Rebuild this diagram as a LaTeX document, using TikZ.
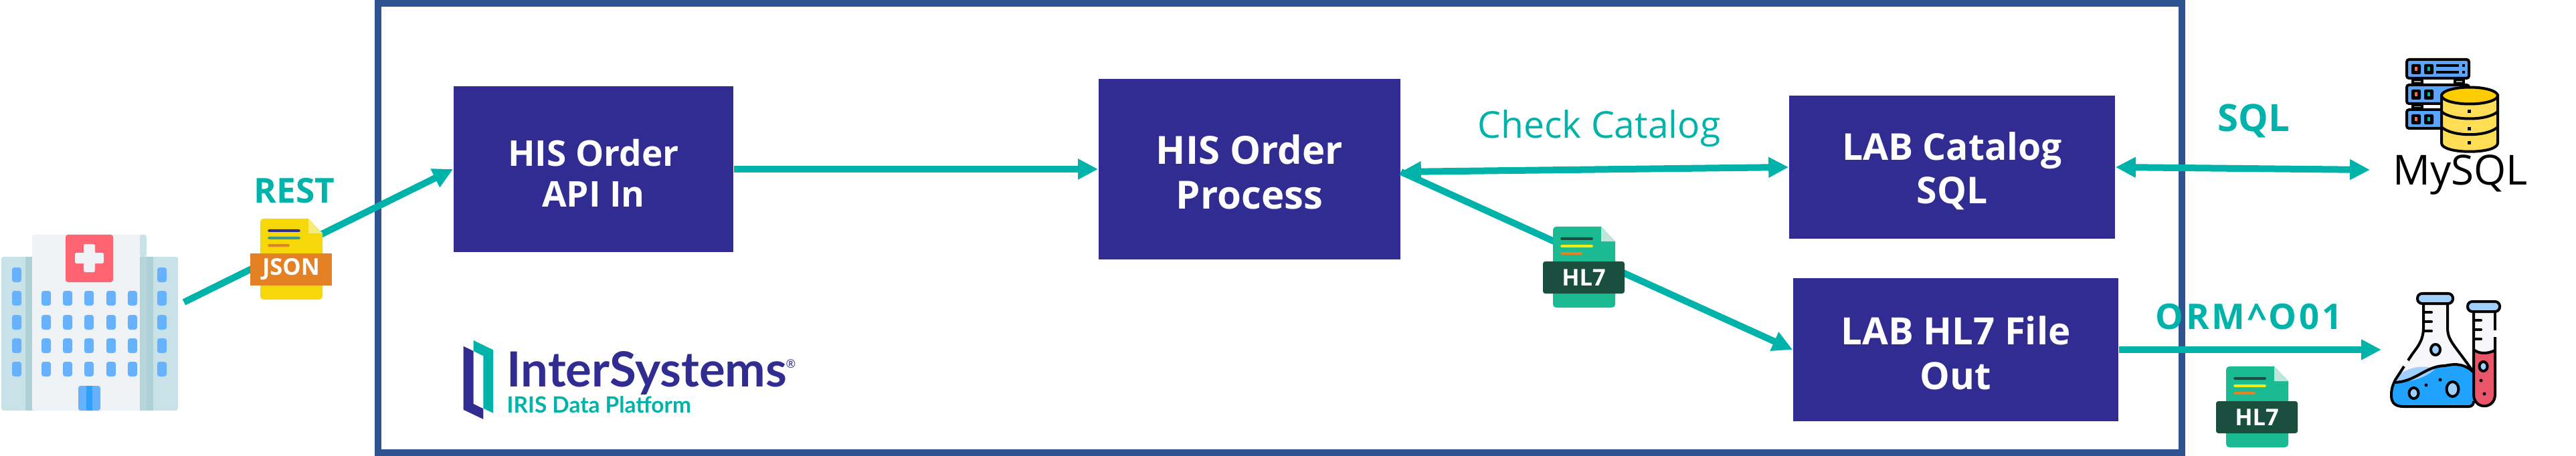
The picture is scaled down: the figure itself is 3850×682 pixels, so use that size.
\documentclass[tikz,border=0pt]{standalone}
\usepackage{fontspec}
\setmainfont{Open Sans}
\newfontfamily\logofont{Lato}
\newfontfamily\ormfont[LetterSpace=7]{Open Sans}
\usetikzlibrary{arrows.meta}
\definecolor{framec}{HTML}{2F5390}
\definecolor{boxc}{HTML}{312C92}
\definecolor{tealc}{HTML}{00B3AA}
\definecolor{wingc}{HTML}{C8E2E7}
\definecolor{stripc}{HTML}{ADD1D6}
\definecolor{wallc}{HTML}{EFF3F6}
\definecolor{bannerc}{HTML}{FF6473}
\definecolor{winc}{HTML}{66B2FF}
\definecolor{doorc}{HTML}{2AA3FF}
\definecolor{jsonbody}{HTML}{F6D70A}
\definecolor{jsonfold}{HTML}{F3EC7A}
\definecolor{orangec}{HTML}{E58125}
\definecolor{hlbody}{HTML}{1ABB92}
\definecolor{hlfold}{HTML}{C0E5DA}
\definecolor{hlband}{HTML}{1A4F40}
\definecolor{yellowc}{HTML}{F5EA14}
\definecolor{jsonline}{HTML}{3C9B8B}
\definecolor{rackc}{HTML}{5AA6FF}
\definecolor{goldc}{HTML}{FFCC00}
\definecolor{goldl}{HTML}{FFDD55}
\definecolor{ledr}{HTML}{FF6B4A}
\definecolor{capc}{HTML}{9FD0FF}
\definecolor{glassc}{HTML}{F7F6F8}
\definecolor{liquidb}{HTML}{20A2FF}
\definecolor{liquidr}{HTML}{EB5569}
\newcommand{\topfill}{\rule{0pt}{15pt}}
\tikzset{
    flowbox/.style = {rectangle,fill=boxc,text=white,align=center,inner sep=0pt,font=\bfseries\fontsize{16}{19}\selectfont},
    edgen/.style = {-{Triangle[length=0.30cm,width=0.29cm]},line width=0.10cm,tealc},
    edged/.style = {{Triangle[length=0.30cm,width=0.29cm]}-{Triangle[length=0.30cm,width=0.29cm]},line width=0.10cm,tealc},
    tagb/.style = {anchor=base,text=tealc,inner sep=0pt,font=\bfseries\fontsize{14.6}{18}\selectfont},
    doctext/.style = {text=white,inner sep=0pt,font=\bfseries\fontsize{9.8}{12}\selectfont},
    ink/.style = {draw=black,line width=0.04cm}
}
% file icon: name, origin, body, fold, band options, three line colours, text
\newcommand{\docicon}[8]{
  \begin{scope}[shift={(#2)}]
    \fill[#3,rounded corners=1.4pt] (0,0) [sharp corners] -- (72,0) -- (93,22) [rounded corners=1.4pt] -- (93,121) -- (0,121) -- cycle;
    \fill[#4] (72,0) -- (93,22) -- (72,22) -- cycle;
    \fill[#6,rounded corners=0.5pt] (11,16) rectangle (60,20);
    \fill[#7,rounded corners=0.5pt] (11,27) rectangle (60,31);
    \fill[orangec,rounded corners=0.5pt] (11,38) rectangle (44,42);
    \fill[#5] (-15,52) rectangle (107,100);
    \node[doctext] (#1) at (46,76) {#8};
  \end{scope}
}
\begin{document}
\begin{tikzpicture}[x=0.01cm,y=-0.01cm]
  \useasboundingbox (0,0) rectangle (3850,682);

  % frame
  \draw[framec,line width=0.10cm] (565,5) rectangle (3261,677);

  % hospital
  \fill[wingc,rounded corners=1pt] (2,384) rectangle (266,614);
  \fill[wallc,rounded corners=1pt] (48,351) rectangle (219,614);
  \fill[wingc,rounded corners=1pt] (209,351) rectangle (219,384);
  \fill[stripc!70!wingc] (209,384) rectangle (219,614);
  \fill[stripc] (38,384) rectangle (48,614);
  \fill[stripc] (219,384) rectangle (229,614);
  \fill[bannerc,rounded corners=1pt] (98,351) rectangle (169,422);
  \fill[wallc,rounded corners=0.5pt] (125,365) rectangle (142,407);
  \fill[wallc,rounded corners=0.5pt] (112,378) rectangle (155,394);
  \foreach \winy in {435,471,506,541} {
    \foreach \winx in {62,94,126,159,191} {
      \fill[winc,rounded corners=1pt] (\winx,\winy) rectangle ++(14,22);
    }
  }
  \foreach \winy in {400,435,471,506,541} {
    \foreach \winx in {18,235} {
      \fill[winc,rounded corners=1pt] (\winx,\winy) rectangle ++(14,22);
    }
  }
  \fill[winc,rounded corners=1pt] (117,577) rectangle (150,614);
  \fill[doorc] (129,577) rectangle (137.5,614);
  \coordinate (hosp) at (275,452);

  % boxes
  \node[flowbox,font=\bfseries\fontsize{15.1}{17.4}\selectfont,minimum width=4.18cm,minimum height=2.48cm] at (887,253) (api) {\topfill HIS Order\\API In};
  \node[flowbox,font=\bfseries\fontsize{16.5}{19}\selectfont,minimum width=4.51cm,minimum height=2.70cm] at (1867.5,253) (proc) {\topfill HIS Order\\Process};
  \node[flowbox,font=\bfseries\fontsize{15.7}{18.5}\selectfont,minimum width=4.87cm,minimum height=2.14cm] at (2917.5,250) (cat) {\topfill LAB Catalog\\SQL};
  \node[flowbox,minimum width=4.86cm,minimum height=2.14cm] at (2923,523) (out) {\topfill LAB HL7 File\\Out};
  \coordinate (procout) at ([yshift=-0.04cm]proc.east);
  \coordinate (mysql) at (3542,254);
  \coordinate (lab) at (3559,523);

  % connectors
  \draw[edgen] (hosp) -- (api.west);
  \draw[edgen] (api.east) -- (proc.west);
  \draw[edged] (procout) -- (cat.west);
  \draw[edgen] (procout) -- (out.west);
  \draw[edged] (cat.east) -- (mysql);
  \draw[edgen] (out.east) -- (lab);

  % file icons
  \docicon{jsontag}{389,327}{jsonbody}{jsonfold}{orangec}{boxc}{jsonline}{JSON}
  \docicon{hlone}{2321,339}{hlbody}{hlfold}{hlband,rounded corners=1pt}{hlband}{yellowc}{HL7}
  \docicon{hltwo}{3327,548}{hlbody}{hlfold}{hlband,rounded corners=1pt}{hlband}{yellowc}{HL7}

  % labels
  \node[tagb] (rest) at (440,304) {REST};
  \node[tagb,font=\bfseries\fontsize{16}{18}\selectfont] (sql) at (3368,197) {SQL};
  \node[tagb,font=\ormfont\bfseries\fontsize{15}{18}\selectfont] (orm) at (3361,492) {ORM\^{}O01};
  \node[anchor=base,text=tealc,inner sep=0pt,font=\fontsize{15.7}{18}\selectfont] (check) at (2390,207) {Check Catalog};
  \node[anchor=base,text=black,inner sep=0pt,font=\fontsize{17.6}{22}\selectfont] (mysqltxt) at (3677,277) {MySQL};

  % logo
  \fill[tealc] (707.5,509) -- (737,523.3) -- (737,617.7) -- (722.4,610.7) -- (722.4,532.3) -- (707.5,525) -- cycle;
  \fill[boxc] (692.5,517.7) -- (707.5,525) -- (707.5,604) -- (722.4,611.3) -- (722.4,627) -- (692.5,612.7) -- cycle;
  \node[anchor=base west,inner sep=0pt,text=boxc,font=\logofont\bfseries\fontsize{20.6}{24}\selectfont] (logoa) at (757,578) {InterSystems};
  \node[anchor=center,inner sep=0pt,text=boxc,font=\fontsize{5}{6}\selectfont] (logor) at (1182,544) {®};
  \node[anchor=base west,inner sep=0pt,text=tealc,font=\logofont\bfseries\fontsize{9.5}{12}\selectfont] (logob) at (757,617) {IRIS Data Platform};

  % database
  \foreach \racky in {87,125,162} {
    \draw[ink,fill=rackc,rounded corners=1pt] (3597,\racky+2) rectangle (3690,\racky+30);
    \fill[black,rounded corners=0.6pt] (3604,\racky+9) rectangle ++(14,15);
    \fill[black,rounded corners=0.6pt] (3623,\racky+9) rectangle ++(14,15);
    \fill[ledr] (3609,\racky+13) rectangle ++(4,6);
    \fill[tealc] (3628,\racky+13) rectangle ++(4,6);
  }
  \draw[ink,fill=gray!70] (3606,119) rectangle (3620,125);
  \draw[ink,fill=gray!70] (3669,119) rectangle (3682,125);
  \draw[ink,fill=gray!70] (3606,157) rectangle (3620,162);
  \fill[black] (3641,96) rectangle (3675,100);
  \fill[black] (3641,106) rectangle (3675,110);
  \fill[black] (3680,96) rectangle (3684,100);
  \fill[black] (3680,106) rectangle (3684,110);
  \draw[ink,fill=goldl] (3649,143) -- (3649,214) .. controls (3649,231) and (3733,231) .. (3733,214) -- (3733,143) -- cycle;
  \draw[ink,fill=goldc] (3691,143) ellipse (42 and 12.5);
  \draw[ink] (3649,167) .. controls (3665,181) and (3717,181) .. (3733,167);
  \draw[ink] (3649,190) .. controls (3665,205) and (3717,205) .. (3733,190);
  \foreach \doty in {166,192,213} {
    \fill[black] (3688,\doty-2) rectangle ++(5,5);
  }

  % flask
  \fill[glassc] (3622,456) -- (3622,490) .. controls (3622,510) and (3612,520) .. (3605,530) -- (3580,568) .. controls (3574,580) and (3574,585) .. (3574,592) .. controls (3574,604) and (3582,608) .. (3592,608) -- (3690,608) .. controls (3695,608) and (3697,604) .. (3697,600) -- (3697,557) -- (3658,503) -- (3658,456) -- cycle;
  \fill[liquidb] (3577,572) .. controls (3610,572) and (3625,547) .. (3654,547) .. controls (3672,543) and (3685,545) .. (3697,557) -- (3697,600) .. controls (3697,604) and (3695,608) .. (3690,608) -- (3592,608) .. controls (3582,608) and (3574,604) .. (3574,592) .. controls (3574,585) and (3574,580) .. (3577,572) -- cycle;
  \fill[capc] (3577,572) .. controls (3585,552) and (3620,543) .. (3639,552) .. controls (3625,566) and (3600,572) .. (3577,572) -- cycle;
  \draw[ink] (3622,456) -- (3622,490) .. controls (3622,510) and (3612,520) .. (3605,530) -- (3599,539);
  \draw[ink] (3593,548) -- (3580,568) .. controls (3574,580) and (3574,585) .. (3574,592) .. controls (3574,604) and (3582,608) .. (3592,608) -- (3690,608) .. controls (3695,608) and (3697,604) .. (3697,600);
  \draw[ink] (3658,456) -- (3658,490) .. controls (3658,510) and (3668,515) .. (3697,557);
  \draw[ink] (3577,572) .. controls (3610,572) and (3625,547) .. (3654,547) .. controls (3672,543) and (3685,545) .. (3697,557);
  \draw[ink,rounded corners=2pt,fill=capc] (3613,439) rectangle (3666,454);
  \foreach \ticky in {467,481,495} {
    \draw[ink,line cap=round] (3623,\ticky) -- (3634,\ticky);
  }
  \draw[ink,fill=capc] (3640,523) ellipse (7 and 8);
  \draw[ink,fill=capc] (3607.5,588) ellipse (7 and 8);
  \draw[ink,fill=capc] (3665.5,582) ellipse (9 and 11);
  \fill[black] (3626,576) circle (2.5);
  \fill[black] (3647,568) circle (2.5);

  % test tube
  \fill[glassc] (3697,466) -- (3697,590) .. controls (3697,613) and (3729,613) .. (3729,590) -- (3729,466) -- cycle;
  \fill[liquidr] (3697,523) .. controls (3705,529) and (3716,530) .. (3729,524) -- (3729,590) .. controls (3729,613) and (3697,613) .. (3697,590) -- cycle;
  \draw[ink] (3697,523) .. controls (3705,529) and (3716,530) .. (3729,524);
  \draw[ink] (3729,466) -- (3729,494);
  \draw[ink] (3729,504) -- (3729,590) .. controls (3729,613) and (3697,613) .. (3697,590) -- (3697,466);
  \draw[ink,rounded corners=2pt,fill=capc] (3688,451) rectangle (3736,466);
  \foreach \ticky in {479,493,507} {
    \draw[ink,line cap=round] (3698,\ticky) -- (3708,\ticky);
  }
  \draw[ink,fill=capc] (3711.5,548) ellipse (6 and 7);
  \fill[black] (3708,569) circle (2.5);
  \fill[black] (3713,589) circle (2.5);
\end{tikzpicture}
\end{document}
